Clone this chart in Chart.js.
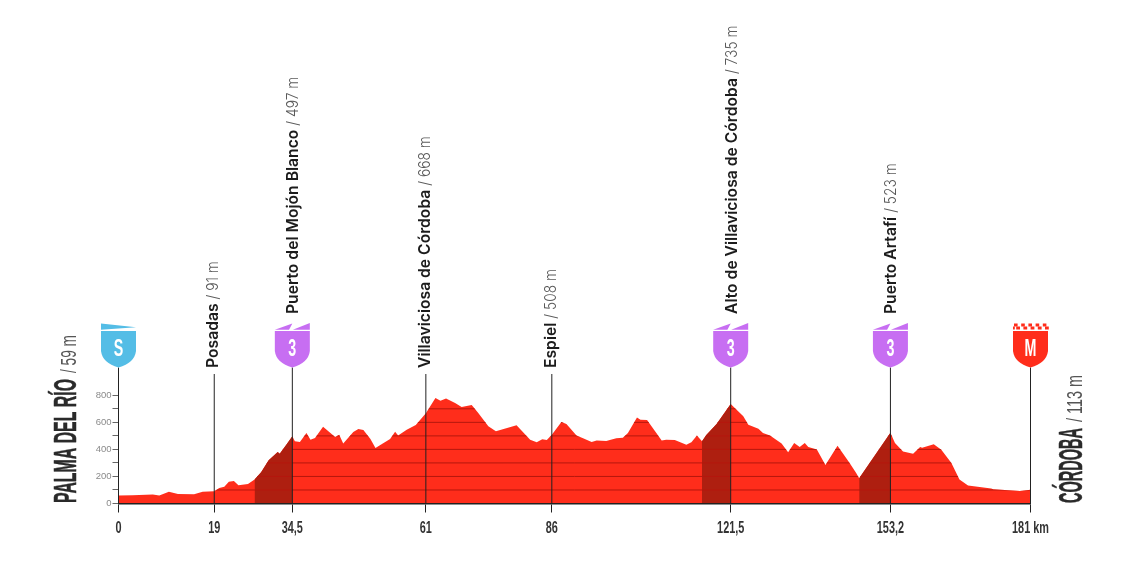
<!DOCTYPE html>
<html>
<head>
<meta charset="utf-8">
<style>
  html, body { margin: 0; padding: 0; background: #fff; }
  canvas { display: block; }
</style>
<script src="https://cdn.jsdelivr.net/npm/chart.js@4/dist/chart.umd.min.js"></script>
</head>
<body>
<canvas id="profile" width="1144" height="575"></canvas>
<script>
const routeKm = [0, 2.8, 6.8, 8.1, 10, 11.8, 15, 16.7, 19, 20, 21, 21.9, 22.9, 23.8, 25.7, 27, 28.3, 29.8, 31.6, 32, 33.3,
    34.5, 35, 36, 37.3, 38.1, 39, 40.6, 43, 43.8, 44.6, 46.6, 47.6, 48.6, 50, 51, 53.9, 54.9, 55.5, 57.2, 59,
    61, 62.9, 63.9, 65, 66.8, 68.1, 70.1, 71.4, 73.4, 74.9, 79, 81.7, 83, 84.1, 85,
    86, 87.9, 88.9, 90.9, 92.2, 93.9, 94.9, 96.8, 98.8, 100.1, 101.1, 102.9, 103.6, 104.9, 107.8, 108.7, 110.4, 112.7, 113.7, 114.8,
    115.8, 116.7, 118.7, 121.5, 124, 125, 127, 127.9, 129.3, 131.6, 132.9, 134.1, 135.2, 136.2, 136.9, 138.6, 140.3, 142.7, 145.1, 146.4,
    147, 153.2, 154.1, 155.7, 157.7, 159.1, 159.5, 161.8, 163.3, 165.3, 166.9, 168.6, 173.2, 173.6, 178.9, 181];
const elevation = [59, 61, 66, 59, 86, 71, 69, 86, 91, 115, 123, 160, 167, 135, 145, 177, 231, 319, 380, 368, 434,
    497, 460, 455, 521, 472, 485, 568, 492, 509, 443, 529, 551, 544, 477, 411, 477, 531, 502, 546, 580,
    668, 780, 760, 777, 743, 713, 728, 669, 571, 534, 578, 472, 453, 475, 470,
    508, 603, 588, 502, 482, 455, 465, 462, 482, 487, 521, 635, 620, 617, 465, 472, 470, 435, 453, 502,
    460, 509, 588, 735, 645, 583, 553, 521, 502, 443, 379, 448, 418, 448, 418, 400, 285, 427, 299, 226,
    187, 523, 447, 385, 368, 417, 412, 439, 398, 299, 177, 133, 110, 106, 93, 101];

const climbStarts = [27, 115.8, 147];
const climbEnds = [34.5, 121.5, 153.2];

const stopKm = [0, 19, 34.5, 61, 86, 121.5, 153.2, 181];
const stopTicks = ['0', '19', '34,5', '61', '86', '121,5', '153,2', '181 km'];
const stopBadges = ['S', '', '3', '', '', '3', '3', 'M'];
const placeNames = ['', 'Posadas', 'Puerto del Mojón Blanco', 'Villaviciosa de Córdoba', 'Espiel', 'Alto de Villaviciosa de Córdoba', 'Puerto Artafí', ''];
const placeHeights = ['', '/ 91 m', '/ 497 m', '/ 668 m', '/ 508 m', '/ 735 m', '/ 523 m', ''];

const RED = '#ff2d1b';
const DARK_RED = '#ae1f10';
const PURPLE = '#c76ef2';
const BLUE = '#54bde6';
const BADGE_TOP = 331;
const BADGE_BOTTOM = 367.5;
const SANS = '"Liberation Sans"';

const profilePoints = routeKm.map((km, i) => ({ x: km, y: elevation[i] }));

const datasets = climbStarts.map((start, i) => ({
    data: profilePoints.filter(p => p.x >= start && p.x <= climbEnds[i]),
    backgroundColor: DARK_RED,
    borderWidth: 0,
    pointRadius: 0,
    fill: 'origin',
    order: 0
}));
datasets.push({
    data: profilePoints,
    backgroundColor: RED,
    borderWidth: 0,
    pointRadius: 0,
    fill: 'origin',
    order: 1
});

function drawRun(ctx, x, y, parts) {
    // text reading upwards, x is the baseline, y where it starts
    ctx.save();
    ctx.translate(x, y);
    ctx.rotate(-Math.PI / 2);
    ctx.textAlign = 'left';
    ctx.textBaseline = 'alphabetic';
    let pos = 0;
    parts.forEach(p => {
        ctx.font = p.font;
        ctx.fillStyle = p.color;
        const natural = ctx.measureText(p.text).width;
        const sx = p.length ? p.length / natural : (p.squeeze || 1);
        ctx.save();
        ctx.translate(pos + (p.gap || 0), 0);
        ctx.scale(sx, 1);
        ctx.fillText(p.text, 0, 0);
        if (p.heavy) {
            ctx.strokeStyle = p.color;
            ctx.lineWidth = p.heavy;
            ctx.strokeText(p.text, 0, 0);
        }
        ctx.restore();
        pos += (p.gap || 0) + natural * sx;
    });
    ctx.restore();
}

function shieldPath(ctx, cx) {
    ctx.beginPath();
    ctx.moveTo(cx - 17.5, BADGE_TOP);
    ctx.lineTo(cx + 17.5, BADGE_TOP);
    ctx.lineTo(cx + 17.5, 351);
    ctx.quadraticCurveTo(cx + 16, 363, cx, BADGE_BOTTOM);
    ctx.quadraticCurveTo(cx - 16, 363, cx - 17.5, 351);
    ctx.closePath();
    ctx.fill();
}

function drawBadge(ctx, cx, letter) {
    const color = letter === 'S' ? BLUE : letter === 'M' ? RED : PURPLE;
    ctx.fillStyle = color;
    shieldPath(ctx, cx);
    if (letter === 'S') {
        ctx.beginPath();
        ctx.moveTo(cx - 17.5, 323.5);
        ctx.lineTo(cx + 17.5, 327.3);
        ctx.lineTo(cx - 17.5, 329.8);
        ctx.fill();
    } else if (letter === 'M') {
        for (let c = 0; c < 5; c++) {
            ctx.fillRect(cx - 16.5 + c * 7.2, 323.5, 3.6, 3);
        }
        for (let c = 0; c < 5; c++) {
            ctx.fillRect(cx - 17.5 + c * 7.2 + 3.2, 326.5, 3.8, 3);
        }
        ctx.fillRect(cx - 17.5, 326.5, 1.8, 3);
    } else {
        ctx.beginPath();
        ctx.moveTo(cx - 17.5, 329.8);
        ctx.lineTo(cx, 323.5);
        ctx.lineTo(cx - 3.3, 329.8);
        ctx.fill();
        ctx.beginPath();
        ctx.moveTo(cx + 0.5, 329.8);
        ctx.lineTo(cx + 17.5, 323);
        ctx.lineTo(cx + 17.5, 329.8);
        ctx.fill();
    }
    ctx.save();
    ctx.translate(cx, 349.5);
    ctx.scale(0.62, 1);
    ctx.fillStyle = '#fff';
    ctx.font = 'bold 23px ' + SANS;
    ctx.textAlign = 'center';
    ctx.textBaseline = 'middle';
    ctx.fillText(letter, 0, 0.5);
    ctx.restore();
}

const profileOverlay = {
    id: 'profileOverlay',
    afterDatasetsDraw(chart) {
        const ctx = chart.ctx;
        const x = chart.scales.x;
        const y = chart.scales.y;
        const meta = chart.getDatasetMeta(datasets.length - 1);

        // altitude lines only show inside the profile
        ctx.save();
        ctx.beginPath();
        ctx.moveTo(meta.data[0].x, y.getPixelForValue(0));
        meta.data.forEach(pt => ctx.lineTo(pt.x, pt.y));
        ctx.lineTo(meta.data[meta.data.length - 1].x, y.getPixelForValue(0));
        ctx.closePath();
        ctx.clip();
        ctx.strokeStyle = '#b5170d';
        ctx.lineWidth = 1;
        for (let v = 100; v <= 800; v += 100) {
            const py = y.getPixelForValue(v);
            ctx.beginPath();
            ctx.moveTo(x.left, py);
            ctx.lineTo(x.right, py);
            ctx.stroke();
        }
        ctx.restore();

        stopKm.forEach((km, i) => {
            const px = x.getPixelForValue(km);
            const hasBadge = stopBadges[i] !== '';
            ctx.strokeStyle = '#222';
            ctx.lineWidth = 1;
            ctx.beginPath();
            ctx.moveTo(px, hasBadge ? BADGE_BOTTOM : 374);
            ctx.lineTo(px, y.getPixelForValue(0));
            ctx.stroke();
            if (hasBadge) drawBadge(ctx, px, stopBadges[i]);
            if (placeNames[i]) {
                drawRun(ctx, px + (hasBadge ? 6 : 4), hasBadge ? 314 : 368, [
                    { text: placeNames[i], font: '600 16.5px Inter, ' + SANS, color: '#1c1c1c', squeeze: 0.95 },
                    { text: placeHeights[i], font: '300 16px Inter, ' + SANS, color: '#5a5a5a', gap: 4, squeeze: 0.86 }
                ]);
            }

            // km labels, squeezed to the narrow look of the original
            ctx.save();
            ctx.translate(px, 533);
            ctx.scale(0.68, 1);
            ctx.font = 'bold 16px ' + SANS;
            ctx.fillStyle = '#333';
            ctx.textAlign = 'center';
            ctx.textBaseline = 'alphabetic';
            ctx.fillText(stopTicks[i], 0, 0);
            ctx.restore();
        });

        drawRun(ctx, 76, 503, [
            { text: 'PALMA DEL RÍO', font: 'bold 31px ' + SANS, color: '#2a2a2a', length: 124, heavy: 0.5 },
            { text: '/ 59 m', font: '22px ' + SANS, color: '#555', gap: 6, length: 38 }
        ]);
        drawRun(ctx, 1081.5, 503, [
            { text: 'CÓRDOBA', font: 'bold 33px ' + SANS, color: '#2a2a2a', length: 75, heavy: 0.5 },
            { text: '/ 113 m', font: '22px ' + SANS, color: '#555', gap: 6, length: 47 }
        ]);
    }
};

new Chart(document.getElementById('profile'), {
    type: 'line',
    data: { datasets },
    plugins: [profileOverlay],
    options: {
        responsive: false,
        animation: false,
        devicePixelRatio: 1,
        layout: { padding: { left: 78.5, right: 113.5, top: 395.3, bottom: 31.5 } },
        plugins: { legend: { display: false }, tooltip: { enabled: false } },
        scales: {
            x: {
                type: 'linear',
                min: 0,
                max: 181,
                afterBuildTicks(scale) { scale.ticks = stopKm.map(km => ({ value: km })); },
                afterFit(scale) {
                    scale.height = 40;
                    scale.paddingLeft = 0;
                    scale.paddingRight = 0;
                },
                border: { display: true, color: '#222', width: 1.5, z: 1 },
                grid: { drawOnChartArea: false, drawTicks: true, tickLength: 9, color: '#222', lineWidth: 1 },
                ticks: { display: false }
            },
            y: {
                min: 0,
                max: 800,
                afterFit(scale) {
                    scale.width = 40;
                    scale.paddingTop = 0;
                    scale.paddingBottom = 0;
                },
                border: { display: true, color: '#555', width: 1 },
                grid: { drawOnChartArea: false, drawTicks: true, tickLength: 6, color: '#666', lineWidth: 1 },
                ticks: {
                    stepSize: 100,
                    autoSkip: false,
                    padding: 1,
                    color: '#8a8a8a',
                    font: { family: SANS, size: 9.5 },
                    callback: v => (v % 200 === 0 ? String(v) : '')
                }
            }
        }
    }
});
</script>
</body>
</html>
